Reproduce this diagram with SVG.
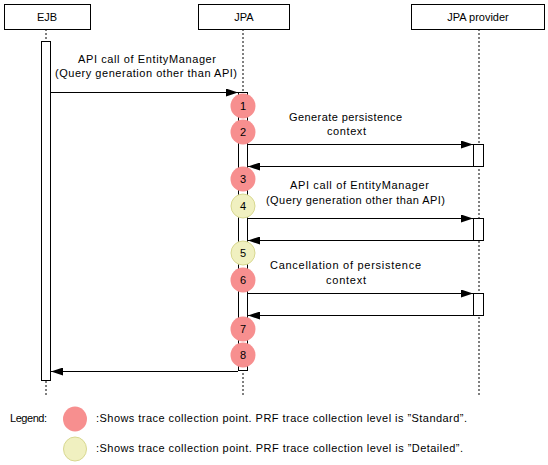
<svg xmlns="http://www.w3.org/2000/svg" width="548" height="465" viewBox="0 0 548 465">
<style>
text{font-family:"Liberation Sans","Noto Sans CJK JP",sans-serif;font-size:11px;fill:#000}
.c{text-anchor:middle}
.box{fill:#fff;stroke:#000;stroke-width:1}
.life{stroke:#000;stroke-width:1;stroke-dasharray:2,2;fill:none}
.act{fill:#fff;stroke:#000;stroke-width:1}
.msg{stroke:#000;stroke-width:1;fill:none}
.std{fill:#F78F8F;stroke:none}
.det{fill:#F0F0C0;stroke:#D8D890;stroke-width:1}
</style>
<defs>
<marker id="ah" markerWidth="12" markerHeight="8" refX="12" refY="4" orient="auto" markerUnits="userSpaceOnUse">
<path d="M0,0 L12,4 L0,8 Z" fill="#000"/>
</marker>
</defs>
<rect width="548" height="465" fill="#fff"/>
<g id="lifelines">
<line class="life" x1="46" y1="29" x2="46" y2="395"/>
<line class="life" x1="243" y1="29" x2="243" y2="395"/>
<line class="life" x1="479" y1="29" x2="479" y2="395"/>
</g>
<g id="EJB">
<rect class="box" x="4.5" y="4.5" width="86" height="25"/>
<text class="c" x="47" y="21">EJB</text>
<rect class="act" x="41.5" y="41.5" width="9" height="339"/>
</g>
<g id="JPA">
<rect class="box" x="198.5" y="4.5" width="91" height="25"/>
<text class="c" x="244" y="21">JPA</text>
<rect class="act" x="238.5" y="92.5" width="9" height="278"/>
</g>
<g id="JPAprovider">
<rect class="box" x="411.5" y="4.5" width="133" height="25"/>
<text class="c" x="478" y="21">JPA provider</text>
<rect class="act" x="473.5" y="144.5" width="10" height="22"/>
<rect class="act" x="473.5" y="218.5" width="10" height="22"/>
<rect class="act" x="473.5" y="293.5" width="10" height="22"/>
</g>
<g id="connectors">
<line class="msg" x1="51" y1="92.5" x2="238" y2="92.5" marker-end="url(#ah)"/>
<line class="msg" x1="248" y1="144.5" x2="473" y2="144.5" marker-end="url(#ah)"/>
<line class="msg" x1="473" y1="166.5" x2="248" y2="166.5" marker-end="url(#ah)"/>
<line class="msg" x1="248" y1="218.5" x2="473" y2="218.5" marker-end="url(#ah)"/>
<line class="msg" x1="473" y1="240.5" x2="248" y2="240.5" marker-end="url(#ah)"/>
<line class="msg" x1="248" y1="293.5" x2="473" y2="293.5" marker-end="url(#ah)"/>
<line class="msg" x1="473" y1="315.5" x2="248" y2="315.5" marker-end="url(#ah)"/>
<line class="msg" x1="238" y1="371.5" x2="51" y2="371.5" marker-end="url(#ah)"/>
</g>
<g id="labels">
<text x="78" y="63" textLength="138" lengthAdjust="spacing">API call of EntityManager</text>
<text x="55" y="77" textLength="182" lengthAdjust="spacing">(Query generation other than API)</text>
<text x="289" y="121" textLength="113" lengthAdjust="spacing">Generate persistence</text>
<text x="327" y="135" textLength="39" lengthAdjust="spacing">context</text>
<text x="290" y="189" textLength="139" lengthAdjust="spacing">API call of EntityManager</text>
<text x="266" y="204" textLength="179" lengthAdjust="spacing">(Query generation other than API)</text>
<text x="270" y="269" textLength="151" lengthAdjust="spacing">Cancellation of persistence</text>
<text x="326" y="284" textLength="40" lengthAdjust="spacing">context</text>
</g>
<g id="points">
<g id="p1"><circle class="std" cx="243" cy="106" r="12.5"/><text class="c" x="243" y="110">1</text></g>
<g id="p2"><circle class="std" cx="243" cy="132" r="12.5"/><text class="c" x="243" y="136">2</text></g>
<g id="p3"><circle class="std" cx="243" cy="179" r="12.5"/><text class="c" x="243" y="183">3</text></g>
<g id="p4"><circle class="det" cx="243" cy="206" r="12"/><text class="c" x="243" y="210">4</text></g>
<g id="p5"><circle class="det" cx="243" cy="253" r="12"/><text class="c" x="243" y="257">5</text></g>
<g id="p6"><circle class="std" cx="243" cy="280" r="12.5"/><text class="c" x="243" y="284">6</text></g>
<g id="p7"><circle class="std" cx="243" cy="329" r="12.5"/><text class="c" x="243" y="333">7</text></g>
<g id="p8"><circle class="std" cx="243" cy="355" r="12.5"/><text class="c" x="243" y="359">8</text></g>
</g>
<g id="legend">
<text x="10" y="422" textLength="37" lengthAdjust="spacing">Legend:</text>
<ellipse class="std" cx="75" cy="419" rx="12" ry="12.5"/>
<text x="96" y="422" textLength="371" lengthAdjust="spacing">:Shows trace collection point. PRF trace collection level is ”Standard”.</text>
<ellipse class="det" cx="75" cy="449" rx="11.5" ry="12"/>
<text x="96" y="452" textLength="367" lengthAdjust="spacing">:Shows trace collection point. PRF trace collection level is ”Detailed”.</text>
</g>
</svg>
